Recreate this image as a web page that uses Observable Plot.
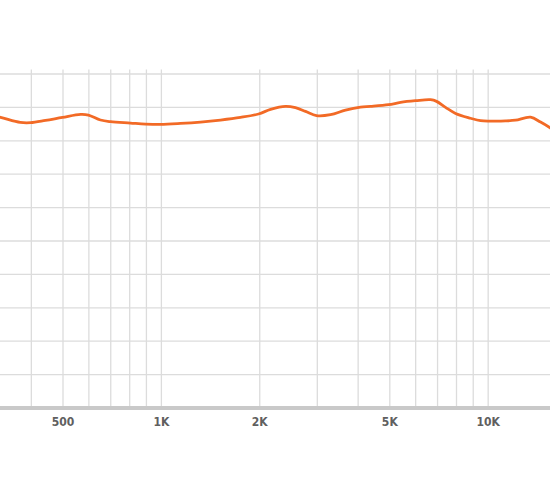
<!DOCTYPE html>
<html>
<head>
<meta charset="utf-8">
<script src="https://cdn.jsdelivr.net/npm/d3@7"></script>
<script src="https://cdn.jsdelivr.net/npm/@observablehq/plot@0.6"></script>
<style>
  html, body { margin: 0; padding: 0; background: #fff; }
  #chart svg { display: block; }
  #chart svg text { font-stretch: condensed; }
</style>
</head>
<body>
<div id="chart"></div>
<script>
// Frequency response readings (Hz, dB)
const freqs = [300, 322, 370, 398, 442, 498, 566, 598, 651, 699, 804, 894, 994, 1144, 1318, 1517, 1746, 1983, 2158, 2398, 2572, 2761, 2983, 3293, 3660, 4068, 4366, 4955, 5393, 5994, 6661, 6951, 7404, 7945, 8830, 9473, 10165, 11299, 12124, 13476, 14460, 15513, 16200];
const levels = [-1.2, -1.50, -2.25, -2.29, -1.95, -1.50, -1.05, -1.15, -1.89, -2.14, -2.34, -2.49, -2.54, -2.40, -2.19, -1.89, -1.50, -0.99, -0.30, 0.15, -0.05, -0.60, -1.24, -1.10, -0.40, 0.05, 0.15, 0.40, 0.75, 1.00, 1.15, 0.90, 0.00, -0.90, -1.62, -1.99, -2.05, -2.03, -1.92, -1.47, -2.20, -3.10, -3.8];

// Grid and ticks
const gridFreqs = [400, 500, 600, 700, 800, 900, 1000, 2000, 3000, 4000, 5000, 6000, 7000, 8000, 9000, 10000, 20000];
const gridLevels = [5, 0, -5, -10, -15, -20, -25, -30, -35, -40];
const tickFreqs = [500, 1000, 2000, 5000, 10000];
const tickLabels = ["500", "1K", "2K", "5K", "10K"];
const xDomain = [321.9, 15513];
const yDomain = [-45, 5];

const curve = freqs.map((f, i) => ({f, db: levels[i]}));
const ticks = tickFreqs.map((f, i) => ({f, label: tickLabels[i]}));

const chart = Plot.plot({
  width: 550,
  height: 482,
  marginLeft: 0,
  marginRight: 0,
  marginTop: 73.5,
  marginBottom: 74.5,
  x: {type: "log", domain: xDomain, axis: null},
  y: {domain: yDomain, axis: null},
  marks: [
    Plot.ruleY(gridLevels, {stroke: "#dcdcdc", strokeWidth: 1.3}),
    Plot.ruleX(gridFreqs, {stroke: "#dcdcdc", strokeWidth: 1.3, insetTop: -4}),
    Plot.ruleY([yDomain[0]], {stroke: "#c9c9c9", strokeWidth: 4}),
    Plot.line(curve, {x: "f", y: "db", stroke: "#f26a26", strokeWidth: 2.8, curve: "catmull-rom", clip: true}),
    Plot.text(ticks, {
      x: "f", y: () => yDomain[0], text: "label", dy: 14,
      fontSize: 12, fontWeight: "bold", fill: "#606060",
      fontFamily: "'DejaVu Sans Condensed', 'DejaVu Sans', sans-serif"
    })
  ]
});
document.getElementById("chart").appendChild(chart);
</script>
</body>
</html>
